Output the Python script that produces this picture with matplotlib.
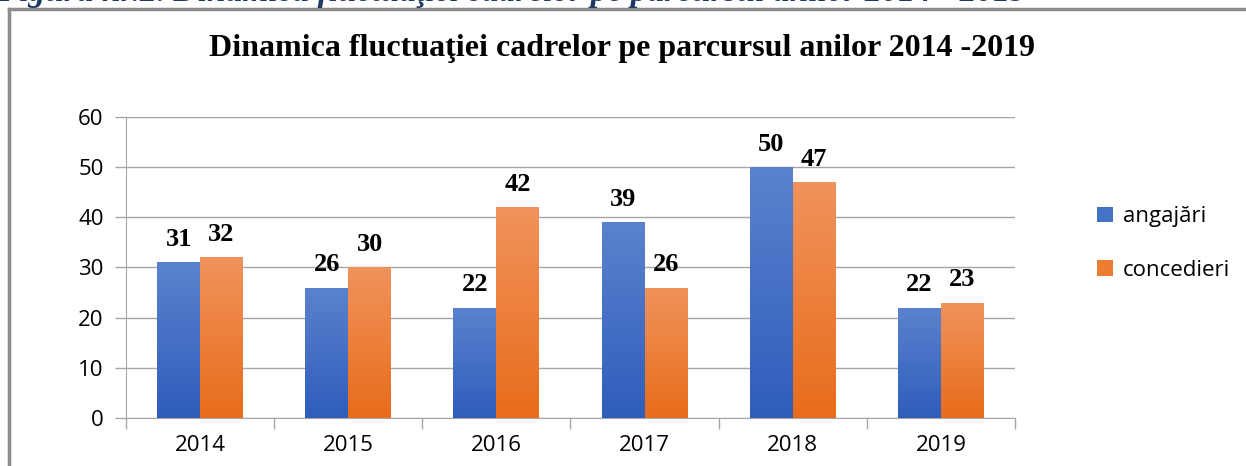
import numpy as np
import matplotlib.pyplot as plt
from matplotlib.colors import LinearSegmentedColormap
from matplotlib.lines import Line2D

years = ["2014", "2015", "2016", "2017", "2018", "2019"]
angajari = [31, 26, 22, 39, 50, 22]
concedieri = [32, 30, 42, 26, 47, 23]

fig = plt.figure(figsize=(12.46, 4.66), dpi=100)
ax = fig.add_axes([0.1011, 0.103, 0.7135, 0.646])

x = np.arange(len(years))
w = 0.29
blue_cm = LinearSegmentedColormap.from_list("b", ["#2E5DBB", "#5B82CE"])
orange_cm = LinearSegmentedColormap.from_list("o", ["#E86C1A", "#F0935C"])
grad = np.linspace(0, 1, 256).reshape(-1, 1)

b1 = ax.bar(x - w/2, angajari, w, color="#4472C4", label="angajări", zorder=2)
b2 = ax.bar(x + w/2, concedieri, w, color="#ED7D31", label="concedieri", zorder=2)

# gradient fill inside the bars
for bars, cm in ((b1, blue_cm), (b2, orange_cm)):
    for p in bars:
        x0, h = p.get_x(), p.get_height()
        im = ax.imshow(grad, extent=[x0, x0 + p.get_width(), 0, h], origin="lower",
                       aspect="auto", cmap=cm, zorder=3)
        im.set_clip_path(p)

for i in range(len(years)):
    ax.text(x[i] - w/2, angajari[i] + 2.3, str(angajari[i]), ha="center", va="bottom",
            fontsize=19, fontweight="bold", family="Liberation Serif")
    ax.text(x[i] + w/2, concedieri[i] + 2.3, str(concedieri[i]), ha="center", va="bottom",
            fontsize=19, fontweight="bold", family="Liberation Serif")

ax.set_xlim(-0.5, len(years) - 0.5)
ax.set_ylim(0, 60)
ax.set_yticks(range(0, 61, 10))
ax.set_xticks(x)
ax.set_xticklabels(years)
ax.set_xticks(np.arange(-0.5, len(years), 1), minor=True)
ax.tick_params(axis="x", which="major", length=0, pad=12, labelsize=16)
ax.tick_params(axis="x", which="minor", length=8, color="#A6A6A6", width=1)
ax.tick_params(axis="y", length=8, color="#A6A6A6", width=1, pad=8, labelsize=16)
for lab in ax.get_xticklabels() + ax.get_yticklabels():
    lab.set_family("Open Sans")
ax.grid(axis="y", color="#A6A6A6", linewidth=1, zorder=0)
ax.set_axisbelow(True)
for s in ("top", "right"):
    ax.spines[s].set_visible(False)
ax.spines["left"].set_color("#A6A6A6")
ax.spines["bottom"].set_color("#A6A6A6")

leg = ax.legend(loc="center left", bbox_to_anchor=(1.07, 0.58), frameon=False,
                handlelength=0.7, handleheight=0.7, handletextpad=0.45,
                labelspacing=1.45, prop={"family": "Open Sans", "size": 16})

fig.text(0.499, 0.895, "Dinamica fluctuaţiei cadrelor pe parcursul anilor 2014 -2019",
         ha="center", va="center", fontsize=23, fontweight="bold", family="Liberation Serif")

# caption above the chart, cut by the top edge
fig.text(-0.002, 1 - 1.5/466, "Figura nr.2. Dinamica fluctuaţiei cadrelor pe parcursul anilor 2014 - 2019",
         ha="left", va="baseline", fontsize=24, fontweight="bold", style="italic",
         color="#1F3864", family="Liberation Serif")

# chart border
fig.add_artist(Line2D([9/1246, 1.0], [1 - 9/466] * 2, color="#8C8C8C", lw=2.5))
fig.add_artist(Line2D([9/1246] * 2, [0, 1 - 9/466], color="#8C8C8C", lw=2.5))

fig.savefig("out.png", dpi=100)
